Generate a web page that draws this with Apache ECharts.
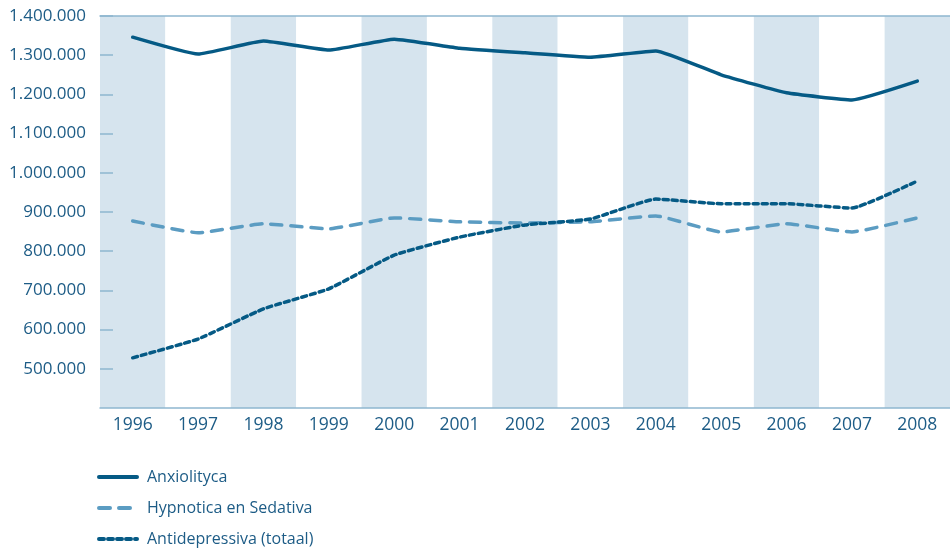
<!DOCTYPE html>
<html>
<head>
<meta charset="utf-8">
<script src="https://cdn.jsdelivr.net/npm/echarts@6/dist/echarts.min.js"></script>
<style>html,body{margin:0;padding:0;background:#fff}#c{width:950px;height:552px}</style>
</head>
<body>
<div id="c"></div>
<script>
const years = ['1996','1997','1998','1999','2000','2001','2002','2003','2004','2005','2006','2007','2008'];
const anxiolityca = [1346000,1303000,1336000,1313000,1341000,1318000,1306000,1295000,1311000,1250000,1204000,1186000,1234000];
const hypnotica = [877000,847000,870000,857000,885000,875000,872000,875000,890000,849000,870000,849000,885000];
const antidepressiva = [528000,576000,653000,704000,790000,836000,867000,882000,933000,921000,921000,910000,979000];
const seriesNames = ['Anxiolityca','Hypnotica en Sedativa','Antidepressiva (totaal)'];

const textColor = '#1d5c86';
const axisColor = '#8fb6d0';
const font = 'Open Sans';

function fmt(v){ return String(v).replace(/\B(?=(\d{3})+(?!\d))/g,'.'); }

const chart = echarts.init(document.getElementById('c'), null, {renderer:'canvas'});
chart.setOption({
  animation:false,
  grid:{left:100,right:0,top:16,bottom:144},
  legend:{
    orient:'vertical', left:97, top:469, height:90, padding:0, itemGap:15, itemWidth:38, itemHeight:16,
    itemStyle:{opacity:0},
    lineStyle:{width:4},
    textStyle:{color:textColor,fontSize:16,fontFamily:font,padding:[0,0,0,5]},
    data:seriesNames
  },
  xAxis:[{
    type:'category', data:years, boundaryGap:true,
    axisLine:{lineStyle:{color:axisColor,width:1.5}},
    axisTick:{inside:true,length:10,alignWithLabel:false,lineStyle:{color:axisColor,width:1.5}},
    axisLabel:{color:textColor,fontSize:17.5,fontFamily:font,margin:8,interval:0},
    splitArea:{show:true,interval:0,areaStyle:{color:['#d6e4ee','#ffffff']}},
    splitLine:{show:false}
  },{
    type:'category', data:years, position:'top',
    axisLine:{show:true,lineStyle:{color:axisColor,width:1.5}},
    axisTick:{show:false}, axisLabel:{show:false}, splitLine:{show:false}
  }],
  yAxis:{
    type:'value', min:400000, max:1400000, interval:100000,
    axisLine:{show:false},
    axisTick:{show:true,inside:true,length:13,lineStyle:{color:axisColor,width:1.5}},
    axisLabel:{color:textColor,fontSize:17,fontFamily:font,margin:14,showMinLabel:false,formatter:fmt},
    splitLine:{show:false}
  },
  series:[
    {name:seriesNames[0],type:'line',data:anxiolityca,symbol:'none',smooth:0.12,
     lineStyle:{color:'#055a85',width:3.5,cap:'round',join:'round'},itemStyle:{color:'#055a85'}},
    {name:seriesNames[1],type:'line',data:hypnotica,symbol:'none',smooth:0.12,
     lineStyle:{color:'#5b9cc2',width:3.5,type:[11,9],cap:'round',join:'round'},itemStyle:{color:'#5b9cc2'}},
    {name:seriesNames[2],type:'line',data:antidepressiva,symbol:'none',smooth:0.12,
     lineStyle:{color:'#055a85',width:3.5,type:[5,4],cap:'round',join:'round'},itemStyle:{color:'#055a85'}}
  ]
});
</script>
</body>
</html>
